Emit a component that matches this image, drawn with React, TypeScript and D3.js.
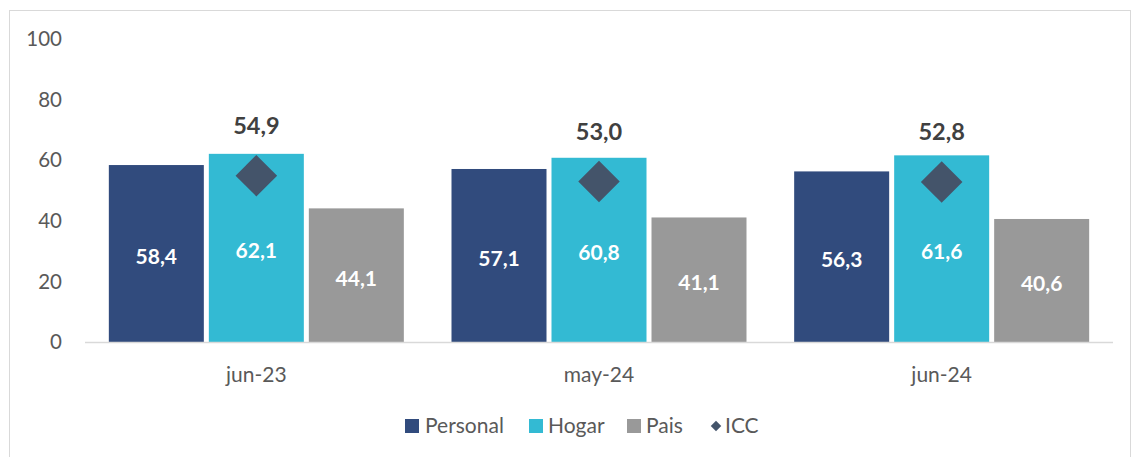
import React from "react";
import * as d3 from "d3";

const categories = ["jun-23", "may-24", "jun-24"];
const personal = [58.4, 57.1, 56.3];
const hogar = [62.1, 60.8, 61.6];
const pais = [44.1, 41.1, 40.6];
const icc = [54.9, 53.0, 52.8];
const yTicks = [0, 20, 40, 60, 80, 100];
const seriesNames = ["Personal", "Hogar", "Pais"];
const seriesColors = ["#314B7D", "#33BAD3", "#999999"];
const iccColor = "#44546A";

const W = 1132;
const H = 457;
const fmt = (v: number) => v.toFixed(1).replace(".", ",");

export default function App() {
  const x = d3.scaleBand<string>().domain(categories).range([85, 1113]).paddingInner(0).paddingOuter(0);
  const bw = x.bandwidth();
  const groupPad = (bw - 295) / 2;
  const inner = d3.scaleBand<string>().domain(seriesNames).range([groupPad, bw - groupPad]).paddingInner(0.05).paddingOuter(0);
  const y = d3.scaleLinear().domain([0, 100]).range([342, 39]);
  const series = [personal, hogar, pais];
  const font = "Lato, 'Open Sans', sans-serif";
  const diamond = d3.symbol().type(d3.symbolDiamond2).size(1100)();
  const legendDiamond = d3.symbol().type(d3.symbolDiamond2).size(70)();

  const legendItems = [
    { name: "Personal", x: 405, textX: 425, color: seriesColors[0], type: "rect" },
    { name: "Hogar", x: 529, textX: 548, color: seriesColors[1], type: "rect" },
    { name: "Pais", x: 627, textX: 646, color: seriesColors[2], type: "rect" },
    { name: "ICC", x: 710, textX: 725, color: iccColor, type: "diamond" },
  ];

  return (
    <svg width={W} height={H} style={{ position: "absolute", left: 0, top: 0 }} fontFamily={font}>
      <rect x={0} y={0} width={W} height={H} fill="#fff" />
      <rect x={9.5} y={10.5} width={1121} height={460} fill="none" stroke="#D9D9D9" />
      {yTicks.map((t) => (
        <text key={t} x={62} y={y(t)} dy="0.35em" textAnchor="end" fontSize={20.5} fill="#595959">
          {t}
        </text>
      ))}
      {categories.map((c, ci) =>
        series.map((s, si) => {
          const bx = (x(c) as number) + (inner(seriesNames[si]) as number);
          const v = s[ci];
          return (
            <g key={c + si}>
              <rect x={bx} y={y(v)} width={inner.bandwidth()} height={y(0) - y(v)} fill={seriesColors[si]} />
              <text
                x={bx + inner.bandwidth() / 2}
                y={(y(v) + y(0)) / 2 + 3}
                dy="0.35em"
                textAnchor="middle"
                fontSize={21}
                fontWeight="bold"
                fill="#fff"
              >
                {fmt(v)}
              </text>
            </g>
          );
        })
      )}
      <line x1={85} x2={1113} y1={342.5} y2={342.5} stroke="#D9D9D9" strokeWidth={1.5} />
      {categories.map((c, ci) => {
        const cx = (x(c) as number) + x.bandwidth() / 2;
        return (
          <g key={"icc" + c}>
            <path d={diamond as string} transform={`translate(${cx},${y(icc[ci])})`} fill={iccColor} />
            <text x={cx} y={y(icc[ci]) - 50} dy="0.35em" textAnchor="middle" fontSize={23.5} fontWeight="bold" fill="#404040">
              {fmt(icc[ci])}
            </text>
            <text x={cx} y={375} dy="0.35em" textAnchor="middle" fontSize={21} fill="#595959">
              {c}
            </text>
          </g>
        );
      })}
      {legendItems.map((it) => (
        <g key={it.name}>
          {it.type === "rect" ? (
            <rect x={it.x} y={419} width={14} height={14} fill={it.color} />
          ) : (
            <path d={legendDiamond as string} transform={`translate(${it.x + 6},426)`} fill={it.color} />
          )}
          <text x={it.textX} y={426} dy="0.35em" fontSize={21} fill="#595959">
            {it.name}
          </text>
        </g>
      ))}
    </svg>
  );
}
